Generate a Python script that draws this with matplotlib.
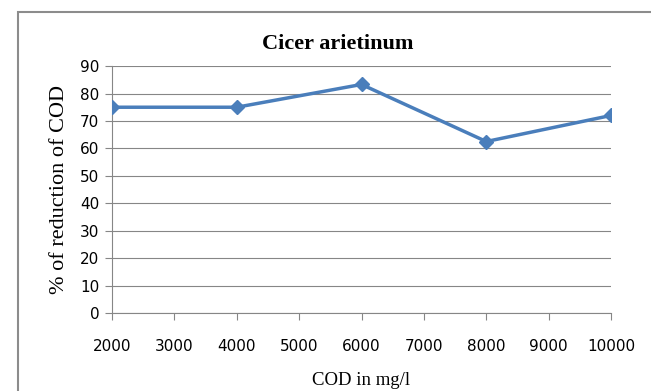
import matplotlib.pyplot as plt
from matplotlib.patches import Rectangle

cod = [2000, 4000, 6000, 8000, 10000]
reduction = [75, 75, 83.3, 62.5, 72]
x_ticks = [2000, 3000, 4000, 5000, 6000, 7000, 8000, 9000, 10000]
y_ticks = [0, 10, 20, 30, 40, 50, 60, 70, 80, 90]

tick_font = ['Liberation Sans Narrow', 'DejaVu Sans']
serif_font = ['Liberation Serif', 'DejaVu Serif']

fig = plt.figure(figsize=(6.51, 3.91), dpi=100)
ax = fig.add_axes([0.172, 0.1995, 0.7666, 0.6315])

# chart border like the Excel chart area
fig.patches.append(Rectangle((18 / 651, -0.1), 1.2, 1 - 12 / 391 + 0.1,
                             transform=fig.transFigure, fill=False,
                             edgecolor='#8c8c8c', linewidth=1.5))

ax.plot(cod, reduction, color='#4A7EBB', linewidth=2.5, marker='D',
        markersize=7, zorder=3)

ax.set_xlim(2000, 10000)
ax.set_ylim(0, 90)
ax.set_xticks(x_ticks)
ax.set_yticks(y_ticks)
ax.yaxis.grid(True, color='#868686', linewidth=0.8)
ax.set_axisbelow(True)

for s in ['top', 'right']:
    ax.spines[s].set_visible(False)
for s in ['left', 'bottom']:
    ax.spines[s].set_color('#868686')
    ax.spines[s].set_linewidth(0.8)

ax.tick_params(axis='x', direction='out', length=5, color='#868686', pad=14)
ax.tick_params(axis='y', direction='out', length=5, color='#868686', pad=4)
for lab in ax.get_xticklabels() + ax.get_yticklabels():
    lab.set_family(tick_font)
    lab.set_fontsize(11)

ax.set_title('Cicer arietinum', family=serif_font, fontsize=16,
             fontweight='bold', x=0.453, pad=12)
ax.set_xlabel('COD in mg/l', family=serif_font, fontsize=13.5, labelpad=13)
ax.set_ylabel('% of reduction of COD', family=serif_font, fontsize=16,
              labelpad=8)

fig.savefig('out.png', dpi=100)
